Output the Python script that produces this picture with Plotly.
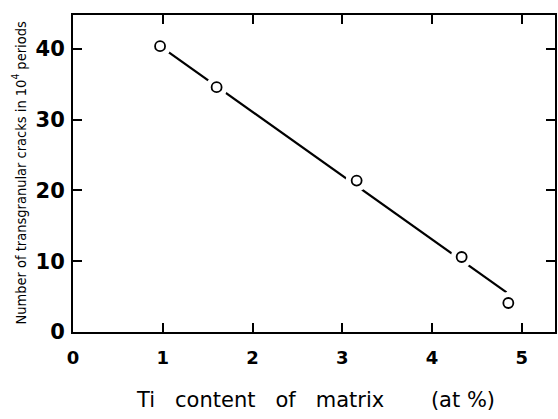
import plotly.graph_objects as go

# Data
ti_content = [0.97, 1.60, 3.16, 4.33, 4.85]
cracks = [40.4, 34.6, 21.4, 10.6, 4.1]

# regression line endpoints (visible fit line)
fit_x = [0.97, 4.83]
fit_y = [40.4, 5.6]

x_ticks = [0, 1, 2, 3, 4, 5]
y_ticks = [0, 10, 20, 30, 40]

fig = go.Figure()
fig.add_trace(go.Scatter(x=fit_x, y=fit_y, mode="lines",
                         line=dict(color="black", width=2.2), hoverinfo="skip"))
# white masks to create gaps around circles
fig.add_trace(go.Scatter(x=ti_content, y=cracks, mode="markers",
                         marker=dict(size=22, color="white", line=dict(width=0)),
                         hoverinfo="skip"))
fig.add_trace(go.Scatter(x=ti_content, y=cracks, mode="markers",
                         marker=dict(size=10, color="white", symbol="circle",
                                     line=dict(color="black", width=1.8))))

axis_common = dict(showline=True, linecolor="black", linewidth=2, mirror="ticks",
                   ticks="inside", ticklen=9, tickwidth=1.8, tickcolor="black",
                   showgrid=False, zeroline=False)

fig.update_layout(
    width=558, height=419,
    margin=dict(l=73, r=1, t=15, b=87),
    plot_bgcolor="white", paper_bgcolor="white",
    showlegend=False,
    xaxis=dict(range=[0, 5.37], tickvals=x_ticks, ticktext=[str(v) for v in x_ticks],
               ticklabelstandoff=8,
               tickfont=dict(family="DejaVu Sans", size=18, color="black", weight="bold"),
               **axis_common),
    yaxis=dict(range=[0, 44.8], tickvals=y_ticks, ticktext=[str(v) for v in y_ticks],
               ticklabelstandoff=2,
               tickfont=dict(family="DejaVu Sans", size=21, color="black", weight="bold"),
               **axis_common),
    annotations=[
        dict(text="Ti   content   of   matrix       (at %)", xref="paper", yref="paper",
             x=0.504, y=0, yshift=-68, showarrow=False, yanchor="middle",
             font=dict(family="DejaVu Sans", size=21, color="black")),
        dict(text="Number of transgranular cracks in 10<sup>4</sup> periods",
             xref="paper", yref="paper", x=0, xshift=-54, y=0.5, textangle=-90,
             showarrow=False, xanchor="center",
             font=dict(family="DejaVu Sans Condensed, Liberation Sans Narrow, DejaVu Sans",
                       size=14.5, color="black")),
    ],
)

fig.write_html("out.html")
